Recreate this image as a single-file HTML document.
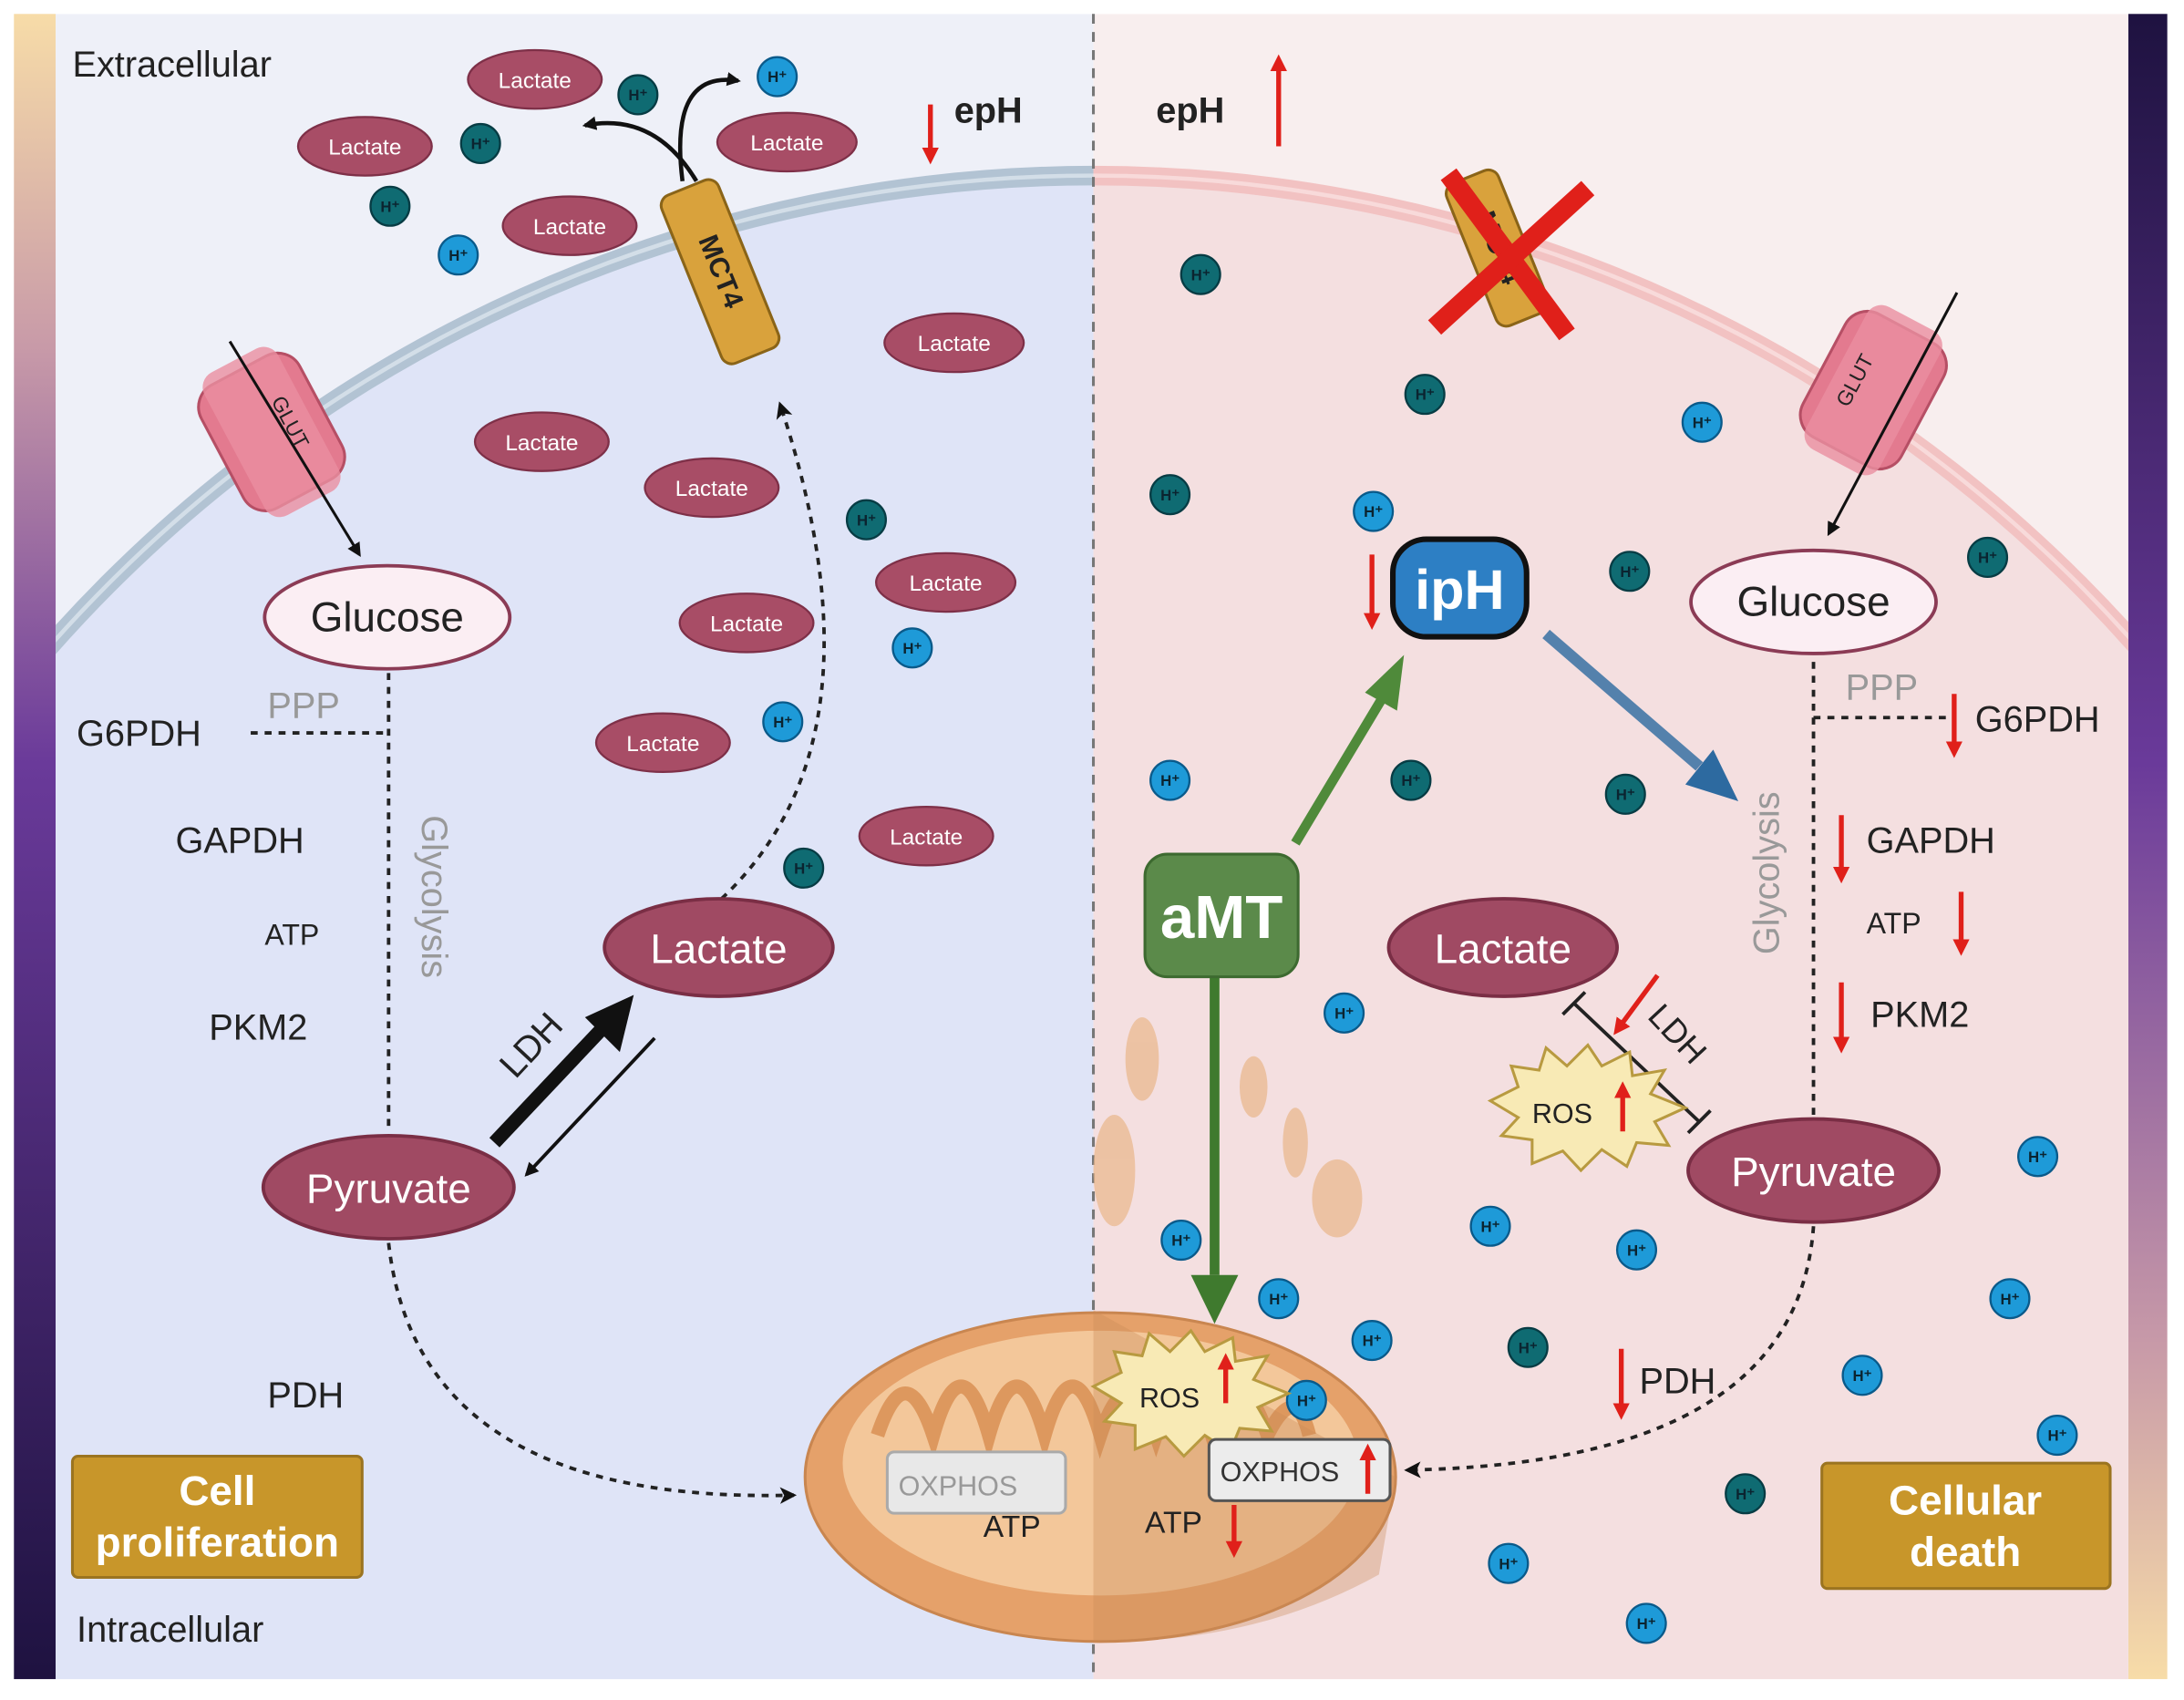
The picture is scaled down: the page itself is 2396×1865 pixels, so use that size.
<!DOCTYPE html>
<html><head><meta charset="utf-8"><style>html,body{margin:0;padding:0;background:#fff;width:2396px;height:1865px;overflow:hidden}svg{display:block}text{font-family:"Liberation Sans",sans-serif}</style></head><body>
<svg width="2396" height="1865" viewBox="0 0 1568 1220" preserveAspectRatio="none" xmlns="http://www.w3.org/2000/svg">
<defs>
<linearGradient id="lb" x1="0" y1="0" x2="0" y2="1"><stop offset="0" stop-color="#f7dca8"/><stop offset="0.2" stop-color="#c89aa8"/><stop offset="0.45" stop-color="#6a3a9a"/><stop offset="1" stop-color="#1e1240"/></linearGradient>
<linearGradient id="rb" x1="0" y1="0" x2="0" y2="1"><stop offset="0" stop-color="#1e1240"/><stop offset="0.45" stop-color="#6a3a9a"/><stop offset="0.8" stop-color="#c89aa8"/><stop offset="1" stop-color="#f7dca8"/></linearGradient>
<clipPath id="cl"><rect x="40" y="10" width="745" height="1195"/></clipPath>
<clipPath id="cr"><rect x="785" y="10" width="743" height="1195"/></clipPath>
<marker id="ar" markerWidth="12" markerHeight="12" refX="6" refY="6" orient="auto" markerUnits="userSpaceOnUse"><path d="M0,0 L12,6 L0,12 z" fill="#e0201a"/></marker>
<marker id="ak" markerWidth="14" markerHeight="14" refX="10" refY="7" orient="auto" markerUnits="userSpaceOnUse"><path d="M0,1 L12,7 L0,13 L3,7 z" fill="#111"/></marker>
<marker id="ab" markerWidth="10" markerHeight="10" refX="8" refY="5" orient="auto" markerUnits="userSpaceOnUse"><path d="M0,0 L10,5 L0,10 z" fill="#111"/></marker>
</defs>
<rect x="10" y="10" width="30" height="1195" fill="url(#lb)"/>
<rect x="1528" y="10" width="28" height="1195" fill="url(#rb)"/>
<g clip-path="url(#cl)">
<rect x="40" y="10" width="745" height="1195" fill="#eef0f8"/>
<circle cx="785" cy="1126" r="1006" fill="#dfe4f7"/>
<circle cx="785" cy="1126" r="1000" fill="none" stroke="#b2c3d3" stroke-width="14"/>
<circle cx="785" cy="1126" r="1000" fill="none" stroke="#d3dee8" stroke-width="3"/>
</g>
<g clip-path="url(#cr)">
<rect x="785" y="10" width="743" height="1195" fill="#f8eeee"/>
<circle cx="785" cy="1126" r="1006" fill="#f4dfe0"/>
<circle cx="785" cy="1126" r="1000" fill="none" stroke="#f2c2c2" stroke-width="14"/>
<circle cx="785" cy="1126" r="1000" fill="none" stroke="#f8dada" stroke-width="3"/>
</g>
<line x1="785" y1="10" x2="785" y2="1205" stroke="#777" stroke-width="2" stroke-dasharray="7,6"/>

<!-- mitochondrion -->
<ellipse cx="790" cy="1060" rx="212" ry="118" fill="#e5a16a" stroke="#c98650" stroke-width="2"/>
<ellipse cx="790" cy="1050" rx="185" ry="95" fill="#f3c79a"/>
<path d="M630,1030 q20,-60 40,0 q20,-70 40,0 q20,-70 40,0 q20,-70 40,0 q20,-60 40,0 q20,-60 40,0 q20,-60 40,0 q20,-40 30,0" fill="none" stroke="#dd985e" stroke-width="10"/>
<path d="M785,940 L1002,1060 L990,1130 Q900,1180 785,1178 z" fill="#c98a55" opacity="0.35"/>
<g fill="#e9b78a" opacity="0.7"><ellipse cx="820" cy="760" rx="12" ry="30"/><ellipse cx="930" cy="820" rx="9" ry="25"/><ellipse cx="900" cy="780" rx="10" ry="22"/><ellipse cx="960" cy="860" rx="18" ry="28"/><ellipse cx="800" cy="840" rx="15" ry="40"/></g>

<!-- MCT4 left -->
<g transform="translate(517,195) rotate(-22)"><rect x="-22" y="-65" width="44" height="130" rx="8" fill="#d9a23c" stroke="#8a6418" stroke-width="2"/><text x="0" y="6" font-size="20" font-weight="bold" text-anchor="middle" transform="rotate(90)" fill="#222">MCT4</text></g>
<path d="M500,130 Q470,80 420,90" fill="none" stroke="#111" stroke-width="3" marker-end="url(#ab)"/>
<path d="M490,130 Q480,50 530,58" fill="none" stroke="#111" stroke-width="3" marker-end="url(#ab)"/>
<!-- MCT4 right crossed -->
<g transform="translate(1075,178) rotate(-22)"><rect x="-20" y="-55" width="40" height="110" rx="8" fill="#d9a23c" stroke="#8a6418" stroke-width="2"/><text x="0" y="6" font-size="20" font-weight="bold" text-anchor="middle" transform="rotate(90)" fill="#222">MCT4</text></g>
<line x1="1040" y1="125" x2="1125" y2="240" stroke="#e0201a" stroke-width="14"/><line x1="1140" y1="135" x2="1030" y2="235" stroke="#e0201a" stroke-width="14"/>

<!-- GLUT -->
<g transform="translate(195,310) rotate(-28)"><rect x="-40" y="-50" width="80" height="100" rx="18" fill="#e37a8f" stroke="#b64f65" stroke-width="2"/><rect x="-30" y="-58" width="60" height="116" rx="12" fill="#ea8ea0" opacity="0.8"/><text x="0" y="-10" font-size="15" text-anchor="middle" transform="rotate(90 0 0)" fill="#222">GLUT</text></g>
<line x1="165" y1="245" x2="258" y2="398" stroke="#111" stroke-width="2" marker-end="url(#ab)"/>
<g transform="translate(1345,280) rotate(28)"><rect x="-40" y="-50" width="80" height="100" rx="18" fill="#e37a8f" stroke="#b64f65" stroke-width="2"/><rect x="-30" y="-58" width="60" height="116" rx="12" fill="#ea8ea0" opacity="0.8"/><text x="0" y="-10" font-size="15" text-anchor="middle" transform="rotate(-90 0 0)" fill="#222">GLUT</text></g>
<line x1="1405" y1="210" x2="1313" y2="383" stroke="#111" stroke-width="2" marker-end="url(#ab)"/>

<!-- small lactates -->
<g fill="#a84d66" stroke="#7e3048" stroke-width="1.5">
<ellipse cx="384" cy="57" rx="48" ry="21"/><ellipse cx="262" cy="105" rx="48" ry="21"/><ellipse cx="565" cy="102" rx="50" ry="21"/><ellipse cx="409" cy="162" rx="48" ry="21"/><ellipse cx="685" cy="246" rx="50" ry="21"/><ellipse cx="389" cy="317" rx="48" ry="21"/><ellipse cx="511" cy="350" rx="48" ry="21"/><ellipse cx="679" cy="418" rx="50" ry="21"/><ellipse cx="536" cy="447" rx="48" ry="21"/><ellipse cx="476" cy="533" rx="48" ry="21"/><ellipse cx="665" cy="600" rx="48" ry="21"/></g>
<g fill="#fff" font-size="16" text-anchor="middle">
<text x="384" y="63">Lactate</text><text x="262" y="111">Lactate</text><text x="565" y="108">Lactate</text><text x="409" y="168">Lactate</text><text x="685" y="252">Lactate</text><text x="389" y="323">Lactate</text><text x="511" y="356">Lactate</text><text x="679" y="424">Lactate</text><text x="536" y="453">Lactate</text><text x="476" y="539">Lactate</text><text x="665" y="606">Lactate</text></g>

<!-- H+ -->
<g stroke="#073c44" stroke-width="1.5" fill="#0f6b72">
<circle cx="458" cy="68" r="14"/><circle cx="345" cy="103" r="14"/><circle cx="280" cy="148" r="14"/><circle cx="622" cy="373" r="14"/><circle cx="577" cy="623" r="14"/><circle cx="862" cy="197" r="14"/><circle cx="1023" cy="283" r="14"/><circle cx="840" cy="355" r="14"/><circle cx="1170" cy="410" r="14"/><circle cx="1427" cy="400" r="14"/><circle cx="1013" cy="560" r="14"/><circle cx="1167" cy="570" r="14"/><circle cx="1097" cy="967" r="14"/><circle cx="1253" cy="1072" r="14"/></g>
<g stroke="#0a5a8a" stroke-width="1.5" fill="#1e9ad8">
<circle cx="558" cy="55" r="14"/><circle cx="329" cy="183" r="14"/><circle cx="655" cy="465" r="14"/><circle cx="562" cy="518" r="14"/><circle cx="986" cy="367" r="14"/><circle cx="1222" cy="303" r="14"/><circle cx="840" cy="560" r="14"/><circle cx="965" cy="727" r="14"/><circle cx="848" cy="890" r="14"/><circle cx="918" cy="932" r="14"/><circle cx="985" cy="962" r="14"/><circle cx="938" cy="1005" r="14"/><circle cx="1070" cy="880" r="14"/><circle cx="1175" cy="897" r="14"/><circle cx="1463" cy="830" r="14"/><circle cx="1443" cy="932" r="14"/><circle cx="1337" cy="987" r="14"/><circle cx="1477" cy="1030" r="14"/><circle cx="1083" cy="1122" r="14"/><circle cx="1182" cy="1165" r="14"/></g>
<g font-size="11" font-weight="bold" fill="#0b2430" text-anchor="middle">
<text x="458" y="72">H⁺</text><text x="345" y="107">H⁺</text><text x="280" y="152">H⁺</text><text x="622" y="377">H⁺</text><text x="577" y="627">H⁺</text><text x="862" y="201">H⁺</text><text x="1023" y="287">H⁺</text><text x="840" y="359">H⁺</text><text x="1170" y="414">H⁺</text><text x="1427" y="404">H⁺</text><text x="1013" y="564">H⁺</text><text x="1167" y="574">H⁺</text><text x="1097" y="971">H⁺</text><text x="1253" y="1076">H⁺</text>
<text x="558" y="59">H⁺</text><text x="329" y="187">H⁺</text><text x="655" y="469">H⁺</text><text x="562" y="522">H⁺</text><text x="986" y="371">H⁺</text><text x="1222" y="307">H⁺</text><text x="840" y="564">H⁺</text><text x="965" y="731">H⁺</text><text x="848" y="894">H⁺</text><text x="918" y="936">H⁺</text><text x="985" y="966">H⁺</text><text x="938" y="1009">H⁺</text><text x="1070" y="884">H⁺</text><text x="1175" y="901">H⁺</text><text x="1463" y="834">H⁺</text><text x="1443" y="936">H⁺</text><text x="1337" y="991">H⁺</text><text x="1477" y="1034">H⁺</text><text x="1083" y="1126">H⁺</text><text x="1182" y="1169">H⁺</text></g>

<!-- labels -->
<g fill="#222" font-size="26">
<text x="52" y="55">Extracellular</text><text x="55" y="1178">Intracellular</text>
<text x="685" y="88" font-weight="bold">epH</text><text x="830" y="88" font-weight="bold">epH</text>
<text x="55" y="535">G6PDH</text><text x="126" y="612">GAPDH</text><text x="190" y="678" font-size="21">ATP</text><text x="150" y="746">PKM2</text><text x="192" y="1010">PDH</text>
<text x="1418" y="525">G6PDH</text><text x="1340" y="612">GAPDH</text><text x="1340" y="670" font-size="21">ATP</text><text x="1343" y="737">PKM2</text><text x="1177" y="1000">PDH</text>
</g>
<text x="192" y="515" font-size="26" fill="#999">PPP</text><text x="1325" y="502" font-size="26" fill="#999">PPP</text>
<text transform="translate(303,585) rotate(90)" font-size="26" fill="#999">Glycolysis</text>
<text transform="translate(1277,685) rotate(-90)" font-size="26" fill="#999">Glycolysis</text>

<!-- dashed pathways -->
<g fill="none" stroke="#222" stroke-width="2.5" stroke-dasharray="5,5">
<line x1="279" y1="483" x2="279" y2="812"/><line x1="180" y1="526" x2="279" y2="526"/>
<path d="M518,645 Q640,530 560,290" marker-end="url(#ak)"/>
<path d="M279,892 Q300,1080 570,1073" marker-end="url(#ak)"/>
<line x1="1302" y1="475" x2="1302" y2="800"/><line x1="1302" y1="515" x2="1398" y2="515"/>
<path d="M1302,880 Q1290,1050 1010,1055" marker-end="url(#ak)"/>
</g>
<!-- LDH arrows -->
<line x1="355" y1="820" x2="440" y2="730" stroke="#111" stroke-width="10"/><path d="M455,714 L420,730 L445,755 z" fill="#111"/>
<line x1="470" y1="745" x2="378" y2="843" stroke="#111" stroke-width="2.5" marker-end="url(#ab)"/>
<text transform="translate(370,775) rotate(-47)" font-size="26" fill="#222">LDH</text>
<!-- right inhibit -->
<line x1="1130" y1="720" x2="1220" y2="805" stroke="#222" stroke-width="2.5"/><line x1="1122" y1="728" x2="1138" y2="712" stroke="#222" stroke-width="2.5"/><line x1="1212" y1="813" x2="1228" y2="797" stroke="#222" stroke-width="2.5"/>
<text transform="translate(1182,730) rotate(47)" font-size="24" fill="#222">LDH</text>

<!-- ROS stars -->
<polygon points="1070,790 1090,780 1085,765 1105,768 1110,752 1125,765 1140,750 1150,765 1170,755 1172,772 1195,768 1185,785 1210,795 1188,805 1198,822 1175,820 1168,837 1150,825 1135,840 1122,826 1100,835 1100,818 1078,815 1090,802" fill="#f8eab5" stroke="#b89a40" stroke-width="2"/>
<text x="1100" y="806" font-size="20" fill="#222">ROS</text>
<polygon points="785,995 805,985 800,970 820,973 825,957 840,970 855,955 865,970 885,960 887,977 910,973 900,990 925,1000 903,1010 913,1027 890,1025 883,1042 865,1030 850,1045 837,1031 815,1040 815,1023 793,1020 805,1007" fill="#f8eab5" stroke="#b89a40" stroke-width="2"/>
<text x="818" y="1010" font-size="20" fill="#222">ROS</text>

<!-- OXPHOS boxes -->
<rect x="637" y="1042" width="128" height="44" rx="5" fill="#e8e8e8" stroke="#aaa" stroke-width="2"/><text x="645" y="1073" font-size="20" fill="#999">OXPHOS</text>
<text x="706" y="1103" font-size="22" fill="#222">ATP</text>
<rect x="868" y="1033" width="130" height="44" rx="5" fill="#ececec" stroke="#555" stroke-width="2"/><text x="876" y="1063" font-size="20" fill="#333">OXPHOS</text>
<text x="822" y="1100" font-size="22" fill="#222">ATP</text>

<!-- main metabolites -->
<ellipse cx="278" cy="443" rx="88" ry="37" fill="#fbeef3" stroke="#8b3b55" stroke-width="2.5"/><text x="278" y="453" font-size="30" text-anchor="middle" fill="#222">Glucose</text>
<ellipse cx="1302" cy="432" rx="88" ry="37" fill="#fbeef3" stroke="#8b3b55" stroke-width="2.5"/><text x="1302" y="442" font-size="30" text-anchor="middle" fill="#222">Glucose</text>
<ellipse cx="516" cy="680" rx="82" ry="35" fill="#a04a63" stroke="#7a2e45" stroke-width="2.5"/><text x="516" y="691" font-size="30" text-anchor="middle" fill="#fff">Lactate</text>
<ellipse cx="1079" cy="680" rx="82" ry="35" fill="#a04a63" stroke="#7a2e45" stroke-width="2.5"/><text x="1079" y="691" font-size="30" text-anchor="middle" fill="#fff">Lactate</text>
<ellipse cx="279" cy="852" rx="90" ry="37" fill="#a04a63" stroke="#7a2e45" stroke-width="2.5"/><text x="279" y="863" font-size="30" text-anchor="middle" fill="#fff">Pyruvate</text>
<ellipse cx="1302" cy="840" rx="90" ry="37" fill="#a04a63" stroke="#7a2e45" stroke-width="2.5"/><text x="1302" y="851" font-size="30" text-anchor="middle" fill="#fff">Pyruvate</text>

<!-- aMT, ipH -->
<line x1="930" y1="605" x2="993" y2="500" stroke="#4f8a3a" stroke-width="7"/><path d="M1008,470 L980,497 L1003,510 z" fill="#4f8a3a"/>
<line x1="1110" y1="455" x2="1220" y2="550" stroke="#2d6aa0" stroke-width="8" opacity="0.8"/><path d="M1248,575 L1210,563 L1230,538 z" fill="#2d6aa0"/>
<line x1="872" y1="700" x2="872" y2="915" stroke="#3f7a2e" stroke-width="7"/><path d="M872,950 L855,915 L889,915 z" fill="#3f7a2e"/>
<rect x="822" y="613" width="110" height="88" rx="16" fill="#5b8a4a" stroke="#3d6a30" stroke-width="2"/><text x="877" y="673" font-size="44" font-weight="bold" text-anchor="middle" fill="#fff">aMT</text>
<rect x="1000" y="387" width="96" height="70" rx="24" fill="#2d7fc4" stroke="#111" stroke-width="4"/><text x="1048" y="437" font-size="40" font-weight="bold" text-anchor="middle" fill="#fff">ipH</text>

<!-- red arrows (on top) -->
<g stroke="#e0201a" stroke-width="3.5" marker-end="url(#ar)">
<line x1="668" y1="75" x2="668" y2="112"/><line x1="918" y1="105" x2="918" y2="45"/>
<line x1="1403" y1="498" x2="1403" y2="538"/><line x1="1322" y1="585" x2="1322" y2="628"/><line x1="1408" y1="640" x2="1408" y2="680"/><line x1="1322" y1="705" x2="1322" y2="750"/><line x1="1164" y1="968" x2="1164" y2="1013"/>
<line x1="985" y1="398" x2="985" y2="446"/><line x1="1190" y1="700" x2="1162" y2="738"/>
<line x1="1165" y1="812" x2="1165" y2="782"/><line x1="880" y1="1007" x2="880" y2="977"/><line x1="982" y1="1072" x2="982" y2="1042"/><line x1="886" y1="1080" x2="886" y2="1112"/>
</g>

<!-- outcome boxes -->
<rect x="52" y="1045" width="208" height="87" rx="4" fill="#c8962a" stroke="#9b7420" stroke-width="2"/><text x="156" y="1080" font-size="30" font-weight="bold" text-anchor="middle" fill="#fff">Cell</text><text x="156" y="1117" font-size="30" font-weight="bold" text-anchor="middle" fill="#fff">proliferation</text>
<rect x="1308" y="1050" width="207" height="90" rx="4" fill="#c8962a" stroke="#9b7420" stroke-width="2"/><text x="1411" y="1087" font-size="30" font-weight="bold" text-anchor="middle" fill="#fff">Cellular</text><text x="1411" y="1124" font-size="30" font-weight="bold" text-anchor="middle" fill="#fff">death</text>
</svg>
</body></html>
